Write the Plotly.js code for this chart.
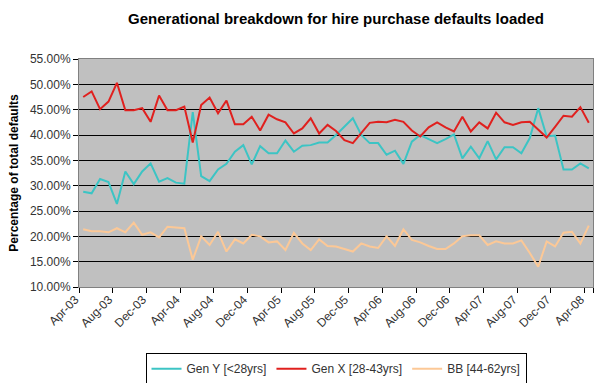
<!DOCTYPE html>
<html>
<head>
<meta charset="utf-8">
<script src="https://cdn.plot.ly/plotly-3.0.1.min.js"></script>
<style>html,body{margin:0;padding:0;background:#fff;}#chart{width:600px;height:383px;}</style>
</head>
<body>
<div id="chart"></div>
<script>
const monthNames = ["Jan","Feb","Mar","Apr","May","Jun","Jul","Aug","Sep","Oct","Nov","Dec"];
// Monthly categories Apr-03 .. Apr-08
const months = [];
for (let y = 2003, m = 3; months.length < 61; m++) {
  if (m > 11) { m = 0; y++; }
  months.push(monthNames[m] + "-" + String(y).slice(2));
}
const tickLabels = ["Apr-03","Aug-03","Dec-03","Apr-04","Aug-04","Dec-04","Apr-05","Aug-05","Dec-05","Apr-06","Aug-06","Dec-06","Apr-07","Aug-07","Dec-07","Apr-08"];

const genY = [28.8,28.5,31.3,30.7,26.4,32.8,30.3,32.8,34.4,30.8,31.5,30.6,30.4,44.5,31.9,30.9,33.2,34.3,36.7,38.0,34.2,37.8,36.4,36.4,38.9,36.7,37.9,38.0,38.5,38.5,40.0,41.6,43.3,40.0,38.4,38.4,36.1,36.9,34.3,38.7,40.0,39.2,38.4,39.2,40.1,35.4,37.7,35.4,38.8,35.2,37.6,37.6,36.4,39.4,45.3,39.7,39.9,33.2,33.2,34.4,33.4];
const genX = [47.5,48.6,45.1,46.6,50.3,44.9,44.9,45.3,42.6,47.8,44.9,44.9,45.6,38.5,45.9,47.4,44.3,46.8,42.1,42.1,43.6,40.9,44.0,43.1,42.5,40.3,41.3,43.3,40.3,42.0,40.8,39.0,38.4,40.5,42.4,42.6,42.5,43.0,42.6,40.9,39.7,41.5,42.5,41.5,40.7,43.6,40.7,42.5,41.3,44.4,42.5,42.0,42.5,42.6,41.0,39.5,41.6,43.8,43.6,45.5,42.4];
const bb = [21.4,21.0,21.0,20.8,21.6,20.8,22.7,20.3,20.8,19.8,21.9,21.7,21.6,15.4,20.0,18.3,20.9,17.0,19.4,18.6,20.3,20.0,18.8,19.0,17.3,20.7,18.6,17.3,19.4,18.1,18.0,17.5,17.0,18.6,18.0,17.7,20.0,18.1,21.4,19.3,18.8,18.1,17.5,17.5,18.6,20.0,20.2,20.2,18.3,19.0,18.6,18.6,19.2,16.7,14.0,19.0,18.0,20.7,20.9,18.6,22.1];

const pct = a => a.map(v => v / 100);
const seriesNames = ["Gen Y [<28yrs]", "Gen X [28-43yrs]", "BB [44-62yrs]"];
const seriesColors = ["#3cc4c4", "#e0201e", "#fcc896"];
const seriesData = [genY, genX, bb];

const traces = seriesData.map((d, i) => ({
  type: "scatter", mode: "lines", x: months, y: pct(d), name: seriesNames[i],
  line: {color: seriesColors[i], width: 2}
}));

const layout = {
  width: 600, height: 383,
  margin: {l: 79, r: 7, t: 59, b: 96},
  paper_bgcolor: "#ffffff",
  plot_bgcolor: "#c0c0c0",
  font: {family: "Liberation Sans, Arial, sans-serif", size: 12, color: "#333"},
  title: {text: "<b>Generational breakdown for hire purchase defaults loaded</b>",
          x: 0.5, xref: "paper", y: 0.95, yanchor: "middle",
          font: {size: 15, color: "#000"}},
  showlegend: true,
  legend: {orientation: "h", xref: "container", yref: "container",
           x: 0.56, xanchor: "center", y: 0.078, yanchor: "top",
           bgcolor: "#ffffff", bordercolor: "#000", borderwidth: 1,
           font: {size: 12, color: "#333"}, itemwidth: 30, tracegroupgap: 0},
  xaxis: {type: "category", range: [-0.5, 60.5], tickmode: "array", tickvals: tickLabels, ticktext: tickLabels,
          tickson: "boundaries", ticks: "outside", ticklen: 5, tickcolor: "#000",
          tickangle: -45, ticklabelshift: -8, tickfont: {size: 12, color: "#333"},
          showgrid: false, showline: true, linecolor: "#808080", linewidth: 1, mirror: true,
          zeroline: false, fixedrange: true, automargin: false},
  yaxis: {range: [0.10, 0.55], dtick: 0.05, tick0: 0.10, tickformat: ".2%",
          ticks: "outside", ticklen: 5, tickcolor: "#000",
          showgrid: true, gridcolor: "#000", gridwidth: 1, automargin: false,
          showline: true, linecolor: "#808080", linewidth: 1, mirror: true, zeroline: false,
          tickfont: {size: 12, color: "#333"},
          title: {text: "<b>Percentage of total defaults</b>", font: {size: 12, color: "#000"}, standoff: 8}}
};

Plotly.newPlot("chart", traces, layout, {displayModeBar: false, staticPlot: true});
</script>
</body>
</html>
